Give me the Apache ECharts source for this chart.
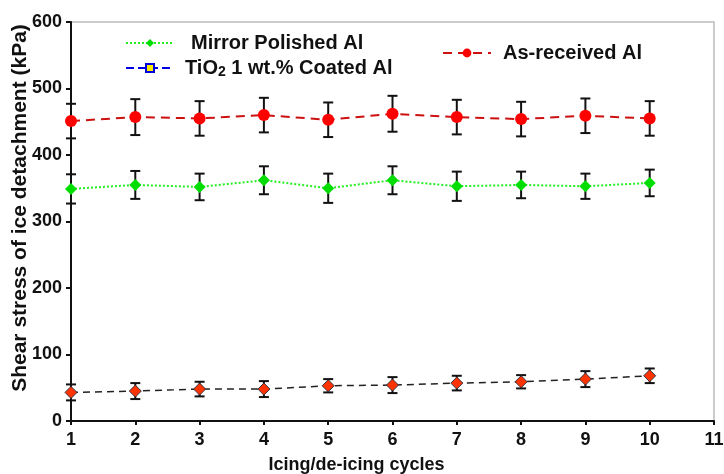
<!DOCTYPE html>
<html>
<head>
<meta charset="utf-8">
<script src="https://cdn.jsdelivr.net/npm/echarts@6/dist/echarts.min.js"></script>
<style>
  html, body { margin: 0; padding: 0; background: #fff; }
  #chart { width: 724px; height: 474px; }
</style>
</head>
<body>
<div id="chart"></div>
<script>
// icing cycles
const cycles = [1, 2, 3, 4, 5, 6, 7, 8, 9, 10];

// shear stress (kPa) and error half-widths
const asReceived = [451, 457, 455, 460, 453, 462, 457, 454, 459, 455];
const asReceivedErr = [26, 27, 26, 26, 26, 27, 26, 26, 26, 26];

const mirror = [349, 355, 352, 362, 350, 362, 353, 355, 353, 358];
const mirrorErr = [22, 21, 20, 21, 22, 21, 22, 20, 19, 20];

const tio2 = [43, 45, 48, 48, 53, 54, 57, 59, 63, 68];
const tio2Err = [12, 12, 11, 12, 10, 12, 11, 10, 12, 11];

const xTicks = [1, 2, 3, 4, 5, 6, 7, 8, 9, 10, 11];

const myChart = echarts.init(document.getElementById('chart'));

function pairs(vals) {
  return cycles.map((c, i) => [c, vals[i]]);
}
function bars(vals, errs) {
  return cycles.map((c, i) => [c, vals[i] - errs[i], vals[i] + errs[i]]);
}

// error bars drawn with the axis scale
function errorBar(params, api) {
  const top = api.coord([api.value(0), api.value(2)]);
  const bot = api.coord([api.value(0), api.value(1)]);
  const w = 5;
  const st = { stroke: '#111', lineWidth: 2 };
  return {
    type: 'group',
    children: [
      { type: 'line', shape: { x1: top[0], y1: top[1], x2: bot[0], y2: bot[1] }, style: st },
      { type: 'line', shape: { x1: top[0] - w, y1: top[1], x2: top[0] + w, y2: top[1] }, style: st },
      { type: 'line', shape: { x1: bot[0] - w, y1: bot[1], x2: bot[0] + w, y2: bot[1] }, style: st }
    ]
  };
}

const FONT = 'Liberation Sans, Arial';
const labelFont = { fontFamily: FONT, fontWeight: 'bold', color: '#111' };
const legendRich = {
  a: { fontFamily: FONT, fontWeight: 'bold', fontSize: 20, color: '#111' },
  s: { fontFamily: FONT, fontWeight: 'bold', fontSize: 14, color: '#111', verticalAlign: 'bottom', padding: [9, 0, 0, 0] },
  p6: { width: 6 },
  p7: { width: 7 },
  p12: { width: 12 }
};

const option = {
  animation: false,
  grid: {
    left: 71, right: 10, top: 22, bottom: 53,
    outerBoundsMode: 'none',
    show: true, borderColor: '#bbb', borderWidth: 1.5
  },
  legend: [
    {
      left: 125, top: 33, padding: 0, orient: 'vertical', itemGap: 5,
      itemWidth: 48, itemHeight: 10,
      data: ['Mirror Polished Al', 'TiO2 1 wt.% Coated Al'],
      formatter: function (name) {
        if (name.indexOf('TiO2') === 0) return '{p6|}{a|TiO}{s|2}{a| 1 wt.% Coated Al}';
        return '{p12|}{a|' + name + '}';
      },
      textStyle: { rich: legendRich }
    },
    {
      left: 442, top: 43, padding: 0, itemWidth: 48, itemHeight: 11,
      data: ['As-received Al'],
      formatter: '{p7|}{a|{name}}',
      textStyle: { rich: legendRich }
    }
  ],
  xAxis: {
    type: 'value', min: 1, max: 11, interval: 1,
    name: 'Icing/de-icing cycles', nameLocation: 'middle', nameGap: 35,
    nameMoveOverlap: false,
    nameTextStyle: { fontFamily: FONT, fontWeight: 'bold', fontSize: 18, color: '#111', padding: [0, 72, 0, 0] },
    axisLine: { lineStyle: { color: '#111', width: 2 } },
    axisTick: { show: true, inside: false, length: 4, lineStyle: { color: '#111', width: 2 } },
    axisLabel: Object.assign({ fontSize: 18, margin: 10, customValues: xTicks }, labelFont),
    splitLine: { show: false }
  },
  yAxis: {
    type: 'value', min: 0, max: 600, interval: 100,
    name: 'Shear stress of ice detachment (kPa)', nameLocation: 'middle', nameGap: 40,
    nameMoveOverlap: false,
    nameTextStyle: { fontFamily: FONT, fontWeight: 'bold', fontSize: 21, color: '#111', padding: [0, 0, 0, 27] },
    axisLine: { show: true, lineStyle: { color: '#111', width: 2 } },
    axisTick: { show: true, inside: false, length: 5, lineStyle: { color: '#111', width: 2 } },
    axisLabel: Object.assign({ fontSize: 18, margin: 9 }, labelFont),
    splitLine: { show: false }
  },
  series: [
    {
      type: 'custom', name: 'errA', renderItem: errorBar, z: 1,
      data: bars(asReceived, asReceivedErr), encode: { x: 0, y: [1, 2] }
    },
    {
      type: 'custom', name: 'errM', renderItem: errorBar, z: 1,
      data: bars(mirror, mirrorErr), encode: { x: 0, y: [1, 2] }
    },
    {
      type: 'custom', name: 'errT', renderItem: errorBar, z: 1,
      data: bars(tio2, tio2Err), encode: { x: 0, y: [1, 2] }
    },
    {
      name: 'Mirror Polished Al', type: 'line', z: 3,
      data: pairs(mirror),
      symbol: 'diamond', symbolSize: 12,
      itemStyle: { color: '#00dd00' },
      lineStyle: { color: '#22ee22', type: 'dotted', width: 2 }
    },
    {
      // legend entry only, as in the original key
      name: 'TiO2 1 wt.% Coated Al', type: 'line', data: [],
      symbol: 'rect', symbolSize: 9,
      itemStyle: { color: '#ffee00', borderColor: '#0000dd', borderWidth: 1.5 },
      lineStyle: { color: '#0000dd', type: 'dashed', width: 1.5 }
    },
    {
      name: 'TiO2 data', type: 'line', z: 3,
      data: pairs(tio2),
      symbol: 'diamond', symbolSize: 12,
      itemStyle: { color: '#ff3300', borderColor: '#334', borderWidth: 1 },
      lineStyle: { color: '#222', type: [7, 5], width: 1.5 }
    },
    {
      name: 'As-received Al', type: 'line', z: 3,
      data: pairs(asReceived),
      symbol: 'circle', symbolSize: 12,
      itemStyle: { color: '#ff0000' },
      lineStyle: { color: '#cc1111', type: [9, 6], width: 2 }
    }
  ]
};
myChart.setOption(option);
</script>
</body>
</html>
